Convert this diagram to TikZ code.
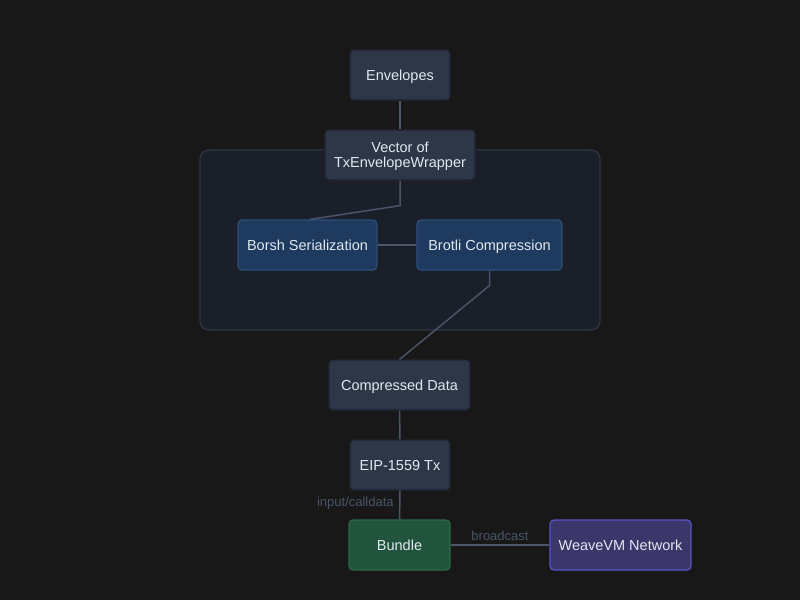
\documentclass[tikz,border=0pt]{standalone}
\usepackage{fontspec}
\setmainfont{Liberation Sans}
\usepackage{xcolor}
\usepackage{tikz}
\usetikzlibrary{positioning,calc,backgrounds}
\definecolor{cBg}    {HTML}{181818}
\definecolor{cStep}  {HTML}{2D3748}
\definecolor{cStepB} {HTML}{1F2533}
\definecolor{cGroup} {HTML}{1B1F2A}
\definecolor{cGroupB}{HTML}{2D3748}
\definecolor{cProc}  {HTML}{1E3A5F}
\definecolor{cProcB} {HTML}{2C4E7A}
\definecolor{cBund}  {HTML}{22543D}
\definecolor{cBundB} {HTML}{2B6B4C}
\definecolor{cNet}   {HTML}{3C366B}
\definecolor{cNetB}  {HTML}{5A55C8}
\definecolor{cEdge}  {HTML}{4A5568}
\definecolor{cText}  {HTML}{E2E8F0}
\tikzset{
  stepbox/.style={draw=cStepB,fill=cStep,rounded corners=4pt,line width=1.2pt,
                  minimum height=50pt,inner xsep=8pt,align=center,text depth=0pt,
                  text=cText,font=\fontsize{14.5}{15}\selectfont},
  procbox/.style={stepbox,fill=cProc,draw=cProcB},
  bundbox/.style={stepbox,fill=cBund,draw=cBundB},
  netbox/.style={stepbox,fill=cNet,draw=cNetB},
  link/.style={-,cEdge,line width=1.5pt},
  lbl/.style={text=cEdge,font=\fontsize{13}{14}\selectfont},
}
\begin{document}
\begin{tikzpicture}[x=1pt,y=-1pt]
  \fill[cBg] (0,0) rectangle (800,600);
  \useasboundingbox (0,0) rectangle (800,600);
  % processing group
  \draw[cGroupB,fill=cGroup,line width=1.2pt,rounded corners=9pt] (200,150) rectangle (600,330);
  \node[stepbox,minimum width=100pt] (env) at (400,75) {Envelopes};
  \node[stepbox,minimum width=150pt] (vec) at (400,155) {Vector of\\TxEnvelopeWrapper};
  \node[procbox,minimum width=139pt] (borsh) at (307.5,245) {Borsh Serialization};
  \node[procbox,minimum width=145pt] (brotli) at (489.5,245) {Brotli Compression};
  \node[stepbox,minimum width=141pt] (comp) at (399.5,385) {Compressed Data};
  \node[stepbox,minimum width=100pt] (eip) at (400,465) {EIP-1559 Tx};
  \node[bundbox,minimum width=101pt] (bund) at (399.5,545) {Bundle};
  \node[netbox,minimum width=141pt] (net) at (620.5,545) {WeaveVM Network};
  % connectors
  \draw[link] (env) -- (vec);
  \draw[link] (vec.south) -- ++(0,25) -- ($(borsh.north)+(2.5,0)$);
  \draw[link] (borsh) -- (brotli);
  \draw[link] (brotli.south) -- ++(0,15) -- (comp.north);
  \draw[link] (comp) -- (eip);
  \draw[link] (eip) -- node[lbl,left=2pt,pos=0.45] (lcall) {input/calldata} (bund);
  \draw[link] (bund) -- node[lbl,above=0pt,pos=0.5] (lcast) {broadcast} (net);
\end{tikzpicture}
\end{document}
